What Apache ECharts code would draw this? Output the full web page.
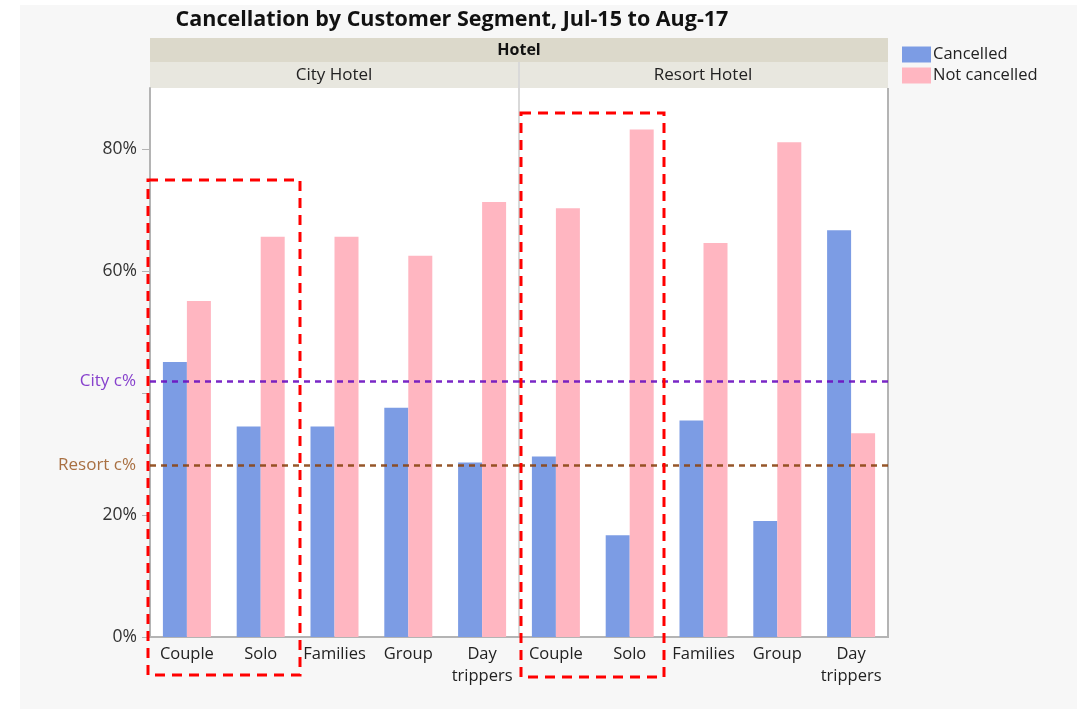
<!DOCTYPE html>
<html>
<head>
<meta charset="utf-8">
<script src="https://cdn.jsdelivr.net/npm/echarts@6/dist/echarts.min.js"></script>
<style>
  html, body { margin: 0; padding: 0; background: #fff; }
  #main { width: 1084px; height: 709px; }
</style>
</head>
<body>
<div id="main"></div>
<script>
// segments and values (percent)
var segments = ['Couple', 'Solo', 'Families', 'Group', 'Day\ntrippers'];
var cityCancelled = [45.1, 34.5, 34.5, 37.6, 28.6];
var cityNotCancelled = [55.1, 65.6, 65.6, 62.5, 71.3];
var resortCancelled = [29.6, 16.7, 35.5, 19.0, 66.7];
var resortNotCancelled = [70.3, 83.2, 64.6, 81.1, 33.4];
var cityRate = 42.0;
var resortRate = 28.1;
var yLabels = [0, 20, 60, 80];
var yTicks = [0, 20, 40, 60, 80];

var blue = '#7c9ce4';
var pink = '#ffb6c1';
var fontF = '"Open Sans", "Noto Sans", sans-serif';

var myChart = echarts.init(document.getElementById('main'));

function refLines(withLabel) {
	return {
		symbol: 'none',
		silent: true,
		data: [
			{
				yAxis: cityRate,
				lineStyle: { color: '#6a0fc0', type: [6, 5], width: 2.5, opacity: 0.9 },
				label: { show: withLabel, position: 'start', distance: 14, formatter: 'City c%', color: '#7a2cc8', fontSize: 17, fontFamily: fontF }
			},
			{
				yAxis: resortRate,
				lineStyle: { color: '#8b4513', type: [6, 5], width: 2.5, opacity: 0.9 },
				label: { show: withLabel, position: 'start', distance: 14, formatter: 'Resort c%', color: '#a0612d', fontSize: 17, fontFamily: fontF }
			}
		]
	};
}

var xAxisBase = {
	type: 'category',
	data: segments,
	axisLine: { lineStyle: { color: '#b4b4b4', width: 2 } },
	axisTick: { show: false },
	axisLabel: { color: '#222', fontSize: 16.5, fontFamily: fontF, margin: 6, lineHeight: 22, interval: 0 }
};

var option = {
	backgroundColor: '#ffffff',
	animation: false,
	textStyle: { fontFamily: fontF },
	legend: {
		left: 897,
		top: 41,
		orient: 'vertical',
		itemWidth: 29,
		itemHeight: 16,
		itemGap: 4,
		icon: 'rect',
		textStyle: { color: '#222', fontSize: 16.5, padding: [0, 0, 0, -3] },
		data: ['Cancelled', 'Not cancelled']
	},
	grid: [
		{ left: 150, top: 88, width: 369, height: 549, show: true, backgroundColor: '#fff', borderWidth: 0 },
		{ left: 519, top: 88, width: 369, height: 549, show: true, backgroundColor: '#fff', borderWidth: 0 }
	],
	xAxis: [
		Object.assign({ gridIndex: 0 }, xAxisBase),
		Object.assign({ gridIndex: 1 }, xAxisBase)
	],
	yAxis: [
		{
			gridIndex: 0, type: 'value', min: 0, max: 90,
			axisLine: { show: true, lineStyle: { color: '#b4b4b4', width: 2 } },
			axisTick: { show: true, length: 8, lineStyle: { color: '#b4b4b4' }, customValues: yTicks },
			axisLabel: { color: '#333', fontSize: 17.5, margin: 13, formatter: '{value}%', customValues: yLabels },
			splitLine: { show: false }
		},
		{
			gridIndex: 1, type: 'value', min: 0, max: 90,
			axisLine: { show: false }, axisTick: { show: false },
			axisLabel: { show: false }, splitLine: { show: false }
		}
	],
	series: [
		{ name: 'Cancelled', type: 'bar', xAxisIndex: 0, yAxisIndex: 0, data: cityCancelled, barWidth: 24, barGap: '0%', itemStyle: { color: blue }, markLine: refLines(true) },
		{ name: 'Not cancelled', type: 'bar', xAxisIndex: 0, yAxisIndex: 0, data: cityNotCancelled, barWidth: 24, barGap: '0%', itemStyle: { color: pink } },
		{ name: 'Cancelled', type: 'bar', xAxisIndex: 1, yAxisIndex: 1, data: resortCancelled, barWidth: 24, barGap: '0%', itemStyle: { color: blue }, markLine: refLines(false) },
		{ name: 'Not cancelled', type: 'bar', xAxisIndex: 1, yAxisIndex: 1, data: resortNotCancelled, barWidth: 24, barGap: '0%', itemStyle: { color: pink } }
	],
	graphic: [
		// grey page panel
		{ type: 'rect', z: -10, shape: { x: 20, y: 5, width: 1057, height: 704 }, style: { fill: '#f7f7f7' } },
		// header strips
		{ type: 'rect', shape: { x: 150, y: 38, width: 738, height: 24 }, style: { fill: '#dcd9cb' } },
		{ type: 'rect', shape: { x: 150, y: 62, width: 738, height: 26 }, style: { fill: '#e8e7df' } },
		{ type: 'line', shape: { x1: 519, y1: 62, x2: 519, y2: 637 }, style: { stroke: '#d9d9d9', lineWidth: 2 } },
		{ type: 'line', shape: { x1: 888, y1: 88, x2: 888, y2: 638 }, style: { stroke: '#b4b4b4', lineWidth: 2 } },
		{ type: 'text', x: 452, y: 20, style: { text: 'Cancellation by Customer Segment, Jul-15 to Aug-17', font: 'bold 21.5px ' + fontF, fill: '#111', align: 'center', verticalAlign: 'middle' } },
		{ type: 'text', x: 519, y: 50, style: { text: 'Hotel', font: 'bold 16px ' + fontF, fill: '#111', align: 'center', verticalAlign: 'middle' } },
		{ type: 'text', x: 334, y: 75, style: { text: 'City Hotel', font: '17px ' + fontF, fill: '#222', align: 'center', verticalAlign: 'middle' } },
		{ type: 'text', x: 703, y: 75, style: { text: 'Resort Hotel', font: '17px ' + fontF, fill: '#222', align: 'center', verticalAlign: 'middle' } },
		// red dashed annotation boxes
		{ type: 'rect', z: 100, shape: { x: 148, y: 180, width: 152, height: 495 }, style: { fill: 'none', stroke: '#ff0000', lineWidth: 3, lineDash: [10, 7] } },
		{ type: 'rect', z: 100, shape: { x: 521, y: 113, width: 143, height: 564 }, style: { fill: 'none', stroke: '#ff0000', lineWidth: 3, lineDash: [10, 7] } }
	]
};

myChart.setOption(option);
</script>
</body>
</html>
